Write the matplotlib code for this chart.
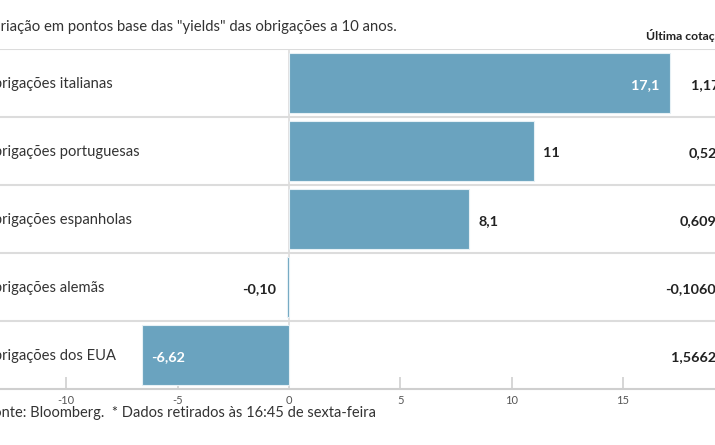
import matplotlib
matplotlib.use("Agg")
import matplotlib.pyplot as plt

plt.rcParams['font.family'] = ['Lato', 'DejaVu Sans']

# data
categories = ["Obrigações italianas", "Obrigações portuguesas", "Obrigações espanholas",
              "Obrigações alemãs", "Obrigações dos EUA"]
variation = [17.1, 11, 8.1, -0.10, -6.62]
value_labels = ["17,1", "11", "8,1", "-0,10", "-6,62"]
last_quote = ["1,1710", "0,5270", "0,6095", "-0,1060", "1,5662"]
xticks = [-10, -5, 0, 5, 10, 15]

title = 'Variação em pontos base das "yields" das obrigações a 10 anos.'
footer = "Fonte: Bloomberg.  * Dados retirados às 16:45 de sexta-feira"

bar_color = "#6aa3bf"
grid_color = "#dcdcdc"
text_color = "#333333"

W, H = 715, 445
fig = plt.figure(figsize=(W / 100, H / 100), dpi=100)
# plot area runs from y=49px to y=389px, full width
ax = fig.add_axes([0, (H - 389) / H, 1, 340 / H])

# pixel scale: 0 at 289px, 22.27 px per unit
px_per_unit = 22.27
x0_px = 289
def px2x(px):
    return (px - x0_px) / px_per_unit

ax.set_xlim(px2x(0), px2x(W))
ax.set_ylim(len(categories) - 0.5, -0.5)

ypos = list(range(len(categories)))
ax.barh(ypos, variation, height=0.87, color=bar_color, edgecolor="#e6f0f5",
        linewidth=0.8, zorder=3)

# row separators + zero line
for i in range(len(categories)):
    ax.axhline(i - 0.5, color=grid_color, lw=1.5, zorder=1)
ax.axvline(0, color=grid_color, lw=1.2, zorder=2)

for s in ["top", "left", "right"]:
    ax.spines[s].set_visible(False)
ax.spines["bottom"].set_color("#cfcfcf")
ax.spines["bottom"].set_linewidth(1.5)
ax.set_yticks([])
ax.set_xticks(xticks)
ax.set_xticklabels([str(t) for t in xticks])
ax.tick_params(axis="x", direction="in", length=9, width=1.2, color="#d0d0d0",
               labelsize=8, labelcolor="#555555", pad=4)

# category labels (start cut at left edge like the source)
for i, cat in enumerate(categories):
    ax.text(px2x(-18), i + 0.02, cat, ha="left", va="center", fontsize=10.6,
            color=text_color, clip_on=False)

# bar value labels
for i, (v, lab) in enumerate(zip(variation, value_labels)):
    if v > 15:
        ax.text(v - 0.45, i + 0.03, lab, ha="right", va="center", fontsize=10.4,
                color="white", fontweight="bold", zorder=4)
    elif v < -5:
        ax.text(v + 0.45, i + 0.03, lab, ha="left", va="center", fontsize=10.4,
                color="white", fontweight="bold", zorder=4)
    elif v > 0:
        ax.text(v + 0.4, i + 0.03, lab, ha="left", va="center", fontsize=10.4,
                color="#222222", fontweight="bold", zorder=4)
    else:
        ax.text(v - 0.5, i + 0.03, lab, ha="right", va="center", fontsize=10.4,
                color="#222222", fontweight="bold", zorder=4)

# last quote column
quote_px = [691, 689, 680, 665, 671]
for i, q in enumerate(last_quote):
    ax.text(px2x(quote_px[i]), i + 0.03, q, ha="left", va="center", fontsize=10.4,
            color="#222222", fontweight="bold", clip_on=False)

fig.text(646 / W, 1 - 36 / H, "Última cotação*", ha="left", va="center",
         fontsize=8.8, fontweight="bold", color="#222222")
fig.text(-17 / W, 1 - 27 / H, title, ha="left", va="center", fontsize=10.7,
         color=text_color)
fig.text(-15 / W, 1 - 413 / H, footer, ha="left", va="center", fontsize=10.5,
         color=text_color)

fig.savefig("out.png", dpi=100)
